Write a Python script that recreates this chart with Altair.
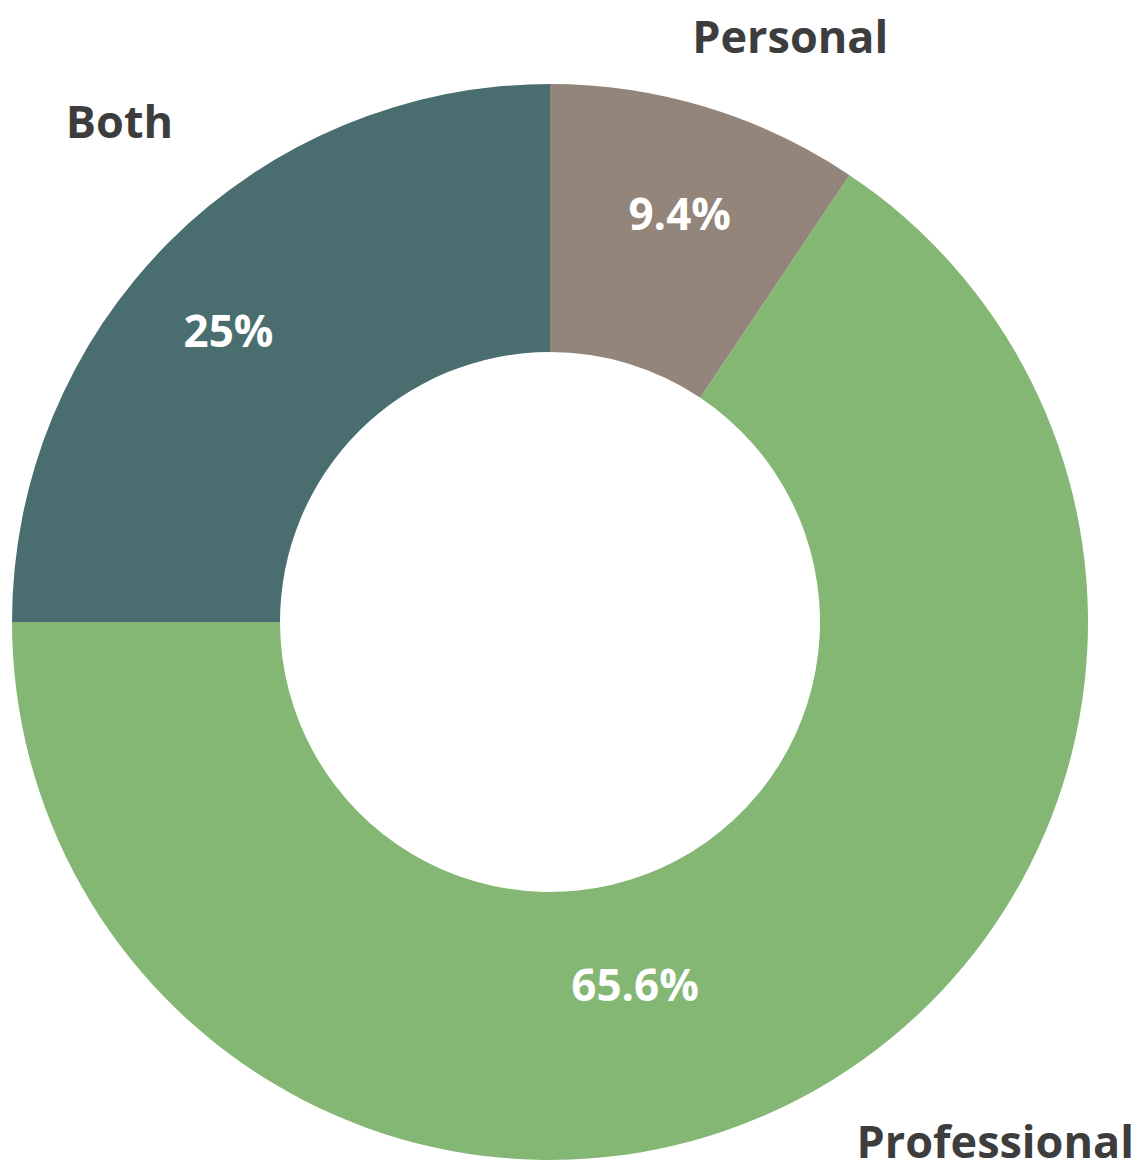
import altair as alt
import pandas as pd

categories = ["Personal", "Professional", "Both"]
values = [9.4, 65.6, 25.0]
pct_labels = ["9.4%", "65.6%", "25%"]
colors = ["#938579", "#83b773", "#4a6e70"]

# label nudges (pixels) per category, kept apart from the data
pct_offsets = [(6, 2), (-115, -9), (-21, 13)]
name_offsets = [(54, 29), (144, -43), (22, -45)]

df = pd.DataFrame({
    "category": categories,
    "value": values,
    "pct": pct_labels,
    "idx": list(range(len(categories))),
})

CX, CY = 542, 614
OUTER, INNER = 538, 270
FONT = "Open Sans"

theta_scale = alt.Scale(domain=[0, 100])

base = alt.Chart(df).transform_window(
    end="sum(value)", sort=[alt.SortField("idx")], frame=[None, 0]
).transform_calculate(
    start="datum.end - datum.value",
    mid="datum.end - datum.value / 2",
).encode(
    x=alt.value(CX),
    y=alt.value(CY),
)

arcs = base.mark_arc(outerRadius=OUTER, innerRadius=INNER, stroke=None).encode(
    theta=alt.Theta("start:Q", scale=theta_scale),
    theta2="end:Q",
    color=alt.Color("category:N",
                    scale=alt.Scale(domain=categories, range=colors),
                    legend=None),
)

layers = [arcs]
for i, cat in enumerate(categories):
    sub = base.transform_filter(alt.datum.category == cat).encode(
        theta=alt.Theta("mid:Q", scale=theta_scale)
    )
    ox, oy = pct_offsets[i]
    layers.append(
        sub.mark_text(
            radius=425, dx=ox, dy=oy, font=FONT, fontWeight="bold",
            fontSize=44, color="white", align="center", baseline="middle"
        ).encode(text="pct:N")
    )
    nx, ny = name_offsets[i]
    layers.append(
        sub.mark_text(
            radius=640, dx=nx, dy=ny, font=FONT, fontWeight="bold",
            fontSize=45, color="#3d3d3d", align="center", baseline="middle"
        ).encode(text="category:N")
    )

chart = alt.layer(*layers).properties(
    width=1128, height=1152,
    autosize=alt.AutoSizeParams(type="none"),
    padding=0,
).configure_view(stroke=None)

chart.save("out.html", embed_options={"renderer": "svg", "actions": False})
